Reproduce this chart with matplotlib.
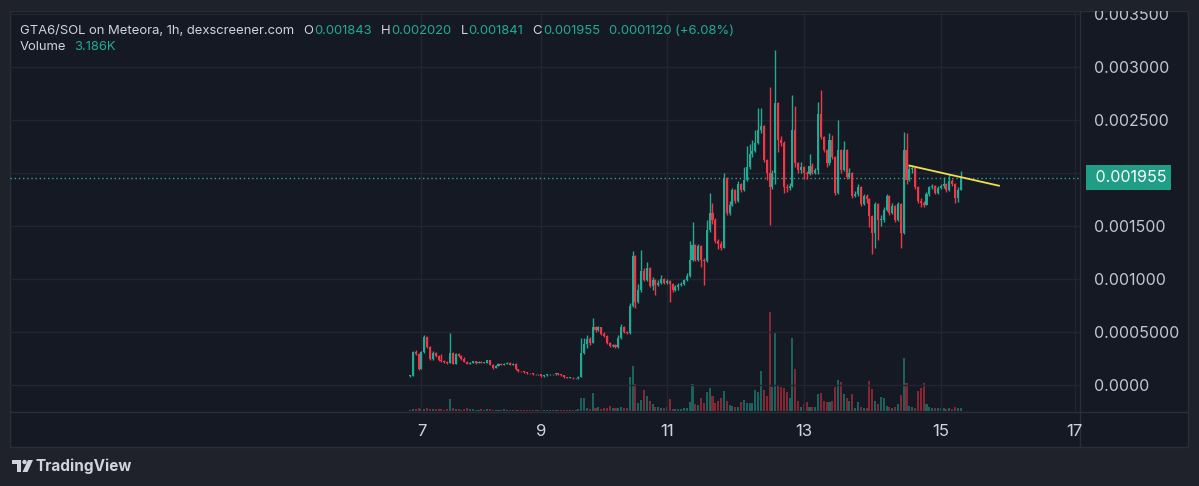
import numpy as np
import matplotlib.pyplot as plt
from matplotlib.patches import Rectangle, Polygon, Circle
from matplotlib.transforms import IdentityTransform

plt.rcParams['font.family'] = ['Inter', 'DejaVu Sans']

# hourly candles, prices in millionths of SOL (open = previous close)
first_open = 85
close_u = [85, 314, 290, 150, 310, 455, 360, 245, 300, 270,
           240, 230, 220, 210, 300, 200, 290, 270, 250, 220,
           200, 210, 222, 210, 220, 210, 212, 235, 190, 160,
           180, 200, 190, 200, 212, 190, 200, 150, 130, 128,
           120, 112, 110, 102, 100, 100, 82, 90, 100, 102,
           100, 110, 100, 90, 72, 70, 70, 62, 62, 80,
           300, 390, 430, 400, 550, 520, 545, 480, 460, 400,
           370, 380, 355, 440, 550, 500, 490, 750, 1220, 780,
           900, 1080, 990, 1100, 930, 990, 940, 960, 1000, 960,
           980, 950, 900, 920, 940, 950, 990, 1030, 1180, 1320,
           1180, 1310, 1180, 1170, 1460, 1620, 1560, 1360, 1330, 1290,
           1950, 1620, 1700, 1840, 1740, 1900, 1840, 1930, 2060, 2180,
           2210, 2280, 2410, 2440, 2120, 2000, 1870, 2000, 2660, 2310,
           2280, 1870, 1860, 1880, 2410, 2090, 2030, 2060, 2000, 1990,
           2070, 2000, 2030, 2560, 2340, 2220, 2090, 2310, 2150, 1810,
           2220, 2030, 2220, 1960, 2000, 1780, 1800, 1870, 1710, 1780,
           1750, 1590, 1430, 1710, 1560, 1560, 1650, 1780, 1620, 1690,
           1560, 1710, 1430, 2220, 1930, 2040, 2050, 1870, 1740, 1720,
           1700, 1800, 1870, 1880, 1810, 1860, 1880, 1900, 1840, 1920,
           1900, 1760, 1843, 1955]
high_u = [90, 320, 330, 300, 320, 470, 460, 370, 320, 310,
          280, 290, 240, 230, 495, 310, 300, 300, 280, 260,
          230, 220, 230, 225, 228, 225, 220, 240, 240, 195,
          190, 205, 205, 210, 218, 215, 205, 205, 155, 135,
          130, 122, 115, 112, 105, 104, 102, 95, 104, 106,
          106, 115, 112, 102, 92, 75, 74, 72, 66, 85,
          440, 440, 470, 450, 630, 560, 560, 550, 500, 470,
          410, 390, 385, 470, 580, 560, 510, 770, 1260, 1230,
          950, 1270, 1100, 1160, 1110, 1020, 1000, 990, 1040, 1010,
          1000, 990, 960, 940, 960, 970, 1000, 1060, 1360, 1540,
          1330, 1330, 1320, 1200, 1560, 1810, 1720, 1580, 1380, 1360,
          2000, 1960, 1740, 1860, 1850, 1920, 1910, 2060, 2250, 2270,
          2310, 2410, 2610, 2610, 2450, 2130, 2810, 2030, 3160, 2670,
          2350, 2300, 1900, 1910, 2740, 2630, 2100, 2100, 2070, 2020,
          2180, 2090, 2050, 2670, 2780, 2350, 2230, 2380, 2360, 2160,
          2500, 2230, 2300, 2230, 2050, 2010, 1830, 1900, 1880, 1800,
          1800, 1760, 1600, 1730, 1720, 1600, 1680, 1800, 1790, 1720,
          1700, 1730, 1720, 2390, 2380, 2070, 2080, 2060, 1880, 1760,
          1740, 1820, 1880, 1900, 1890, 1880, 1900, 1960, 1910, 1990,
          1940, 1910, 1870, 2020]
low_u = [80, 85, 280, 140, 150, 300, 350, 240, 240, 260,
         230, 220, 210, 200, 205, 195, 200, 260, 240, 215,
         195, 195, 205, 200, 205, 205, 205, 210, 185, 155,
         158, 178, 185, 185, 195, 185, 185, 145, 125, 120,
         115, 108, 105, 98, 96, 95, 78, 80, 88, 98,
         96, 98, 96, 86, 68, 66, 66, 60, 58, 60,
         78, 290, 350, 380, 400, 500, 510, 470, 450, 390,
         360, 355, 345, 350, 430, 490, 480, 480, 740, 730,
         770, 880, 980, 980, 920, 900, 850, 930, 950, 950,
         950, 780, 880, 890, 900, 930, 940, 980, 1020, 1170,
         1170, 1170, 1110, 940, 1160, 1440, 1520, 1340, 1280, 1270,
         1290, 1600, 1600, 1690, 1720, 1730, 1820, 1830, 1920, 2040,
         2150, 2200, 2270, 2380, 2100, 1930, 1510, 1850, 1900, 2200,
         2250, 1810, 1820, 1840, 1870, 2060, 2000, 2000, 1940, 1940,
         1980, 1990, 1990, 1990, 2320, 2200, 2060, 2080, 2130, 1790,
         1800, 2000, 2020, 1940, 1950, 1760, 1770, 1780, 1690, 1700,
         1720, 1490, 1240, 1290, 1370, 1500, 1540, 1640, 1600, 1610,
         1540, 1550, 1290, 1420, 1900, 1920, 2000, 1850, 1720, 1680,
         1680, 1700, 1780, 1850, 1800, 1800, 1850, 1860, 1820, 1830,
         1880, 1720, 1730, 1841]
# volume in thousands
volume_k = [1, 2, 2, 3, 2, 2, 3, 2, 2, 2,
            2, 2, 1, 2, 12, 3, 2, 2, 1, 2,
            3, 2, 2, 1, 1, 2, 1, 2, 2, 1,
            1, 1, 1, 2, 1, 1, 1, 1, 1, 1,
            1, 1, 1, 1, 1, 1, 1, 1, 1, 1,
            1, 1, 1, 1, 1, 1, 1, 1, 1, 2,
            13, 13, 3, 2, 18, 3, 4, 2, 3, 3,
            5, 3, 3, 3, 4, 3, 3, 34, 45, 27,
            8, 11, 21, 15, 10, 7, 4, 4, 3, 3,
            4, 12, 2, 2, 2, 2, 3, 3, 9, 27,
            7, 6, 13, 8, 19, 23, 15, 8, 10, 13,
            20, 10, 6, 5, 4, 4, 9, 11, 8, 8,
            8, 21, 19, 40, 21, 15, 99, 24, 78, 26,
            24, 23, 19, 13, 73, 42, 10, 4, 7, 9,
            4, 4, 4, 17, 18, 10, 9, 9, 10, 24,
            31, 29, 17, 13, 10, 17, 3, 9, 4, 3,
            3, 30, 22, 10, 7, 14, 13, 5, 4, 3,
            4, 7, 16, 53, 28, 5, 4, 3, 20, 23,
            28, 7, 4, 3, 3, 3, 3, 3, 2, 3,
            2, 4, 3, 3.186]

day_bars = [4, 46, 90, 138, 186, 233]
day_labels = ['7', '9', '11', '13', '15', '17']
price_ticks = [0, 0.0005, 0.001, 0.0015, 0.002, 0.0025, 0.003, 0.0035]
price_labels = ['0.0000', '0.0005000', '0.001000', '0.001500', '0.002000',
                '0.002500', '0.003000', '0.003500']
trend_bars = [175, 206.4]
trend_price = [0.00207, 0.00188]

W, H = 1199, 486
outer_bg = '#1f222b'
chart_bg = '#151924'
grid_c = '#232632'
txt_c = '#d1d4dc'
up_c = '#22ab94'
dn_c = '#f23645'

c = np.array(close_u) * 1e-6
o = np.r_[first_open, close_u[:-1]] * 1e-6
h = np.maximum(np.array(high_u) * 1e-6, np.maximum(o, c))
l = np.minimum(np.array(low_u) * 1e-6, np.minimum(o, c))
x = np.arange(len(c))
up = c >= o
cols = np.where(up, up_c, dn_c)

fig = plt.figure(figsize=(W / 100, H / 100), dpi=100, facecolor=outer_bg)

def fx(px):
    return px / W

def fy(py):
    return 1 - py / H

# chart frame
fig.add_artist(Rectangle((fx(10), fy(447)), fx(1188) - fx(10), fy(11) - fy(447),
                         transform=fig.transFigure, fc=chart_bg, ec='#2a2e39', lw=1, zorder=-1))

ax = fig.add_axes([fx(10), fy(411), fx(1080) - fx(10), fy(11) - fy(411)])
vax = ax.twinx()
ax.set_zorder(2)
vax.set_zorder(1)
ax.patch.set_visible(False)
vax.patch.set_visible(False)

# volume
vax.bar(x, volume_k, width=0.72, color=cols, alpha=0.5, lw=0)
vax.set_ylim(0, 400)
vax.axis('off')

# candles
ax.vlines(x, l, h, colors=cols, lw=1, zorder=3)
minh = 0.5e-5
ax.bar(x, np.maximum(np.abs(c - o), minh), bottom=np.minimum(o, c), width=0.72,
       color=cols, lw=0, zorder=4)

ax.plot(trend_bars, trend_price, color='#f0e04a', lw=1.3, zorder=5)
ax.axhline(c[-1], color=up_c, lw=1, ls=(0, (1, 2)), zorder=2)

ax.set_xlim(-140.2, 234.8)
ax.set_ylim(-0.000245, 0.003528)
for s in ax.spines.values():
    s.set_visible(False)
ax.set_xticks(day_bars)
ax.set_xticklabels(day_labels)
ax.yaxis.tick_right()
ax.set_yticks(price_ticks)
ax.set_yticklabels(price_labels)
ax.tick_params(axis='x', length=0, pad=9, labelsize=12, labelcolor=txt_c)
ax.tick_params(axis='y', length=0, pad=10, labelsize=11.5, labelcolor='#c3c6ce')
ax.grid(True, color=grid_c, lw=1)
ax.set_axisbelow(True)

# the last-price badge sits over the label nearest to it
for tick, lab in zip(price_ticks, ax.get_yticklabels()):
    if abs(tick - c[-1]) < 0.0001:
        lab.set_visible(False)

ax.annotate(' %.6f' % c[-1], xy=(1, c[-1]), xycoords=('axes fraction', 'data'),
            xytext=(8, 0), textcoords='offset points', va='center', ha='left',
            color='white', fontsize=11.5, annotation_clip=False, zorder=10,
            bbox=dict(boxstyle='square,pad=0.3', fc='#1f9e85', ec='none'))

# separators and clipping of axis area (drawn above the axes)
fig.add_artist(Rectangle((fx(1082), fy(446)), fx(1187) - fx(1082), fy(412) - fy(446),
                         transform=fig.transFigure, fc=chart_bg, ec='none', zorder=3))
fig.add_artist(Rectangle((0, fy(11)), 1, 1 - fy(11), transform=fig.transFigure,
                         fc=outer_bg, ec='none', zorder=3))
fig.add_artist(plt.Line2D([fx(10), fx(1188)], [fy(411.5)] * 2, transform=fig.transFigure,
                          color='#2a2e39', lw=1, zorder=3))
fig.add_artist(plt.Line2D([fx(1080)] * 2, [fy(11), fy(447)], transform=fig.transFigure,
                          color='#2a2e39', lw=1, zorder=1))


def pix_text(px, py, s, **kw):
    return fig.text(px, H - py, s, transform=IdentityTransform(), **kw)


def chain(px, py, parts, size):
    r = fig.canvas.get_renderer()
    for s, col, gap in parts:
        t = pix_text(px, py, s, color=col, fontsize=size, va='center', ha='left', zorder=5)
        px += t.get_window_extent(r).width + gap


chg = c[-1] - o[-1]
header = [('GTA6/SOL on Meteora, 1h, dexscreener.com', txt_c, 9),
          ('O', txt_c, 1), ('%.6f' % o[-1], up_c, 9),
          ('H', txt_c, 1), ('%.6f' % h[-1], up_c, 9),
          ('L', txt_c, 1), ('%.6f' % l[-1], up_c, 9),
          ('C', txt_c, 1), ('%.6f' % c[-1], up_c, 9),
          ('%.7f (+%.2f%%)' % (chg, chg / o[-1] * 100), up_c, 0)]
chain(20, 31, header, 9.4)
chain(20, 47, [('Volume', txt_c, 8), ('%.3fK' % volume_k[-1], up_c, 0)], 9.4)

# TradingView logo
to_px = IdentityTransform()
fig.add_artist(Polygon([[12, H - 460], [21, H - 460], [21, H - 472], [17, H - 472],
                        [17, H - 464], [12, H - 464]], closed=True, transform=to_px,
                       fc=txt_c, ec='none'))
fig.add_artist(Circle((24.5, H - 462), 2.2, transform=to_px, fc=txt_c, ec='none'))
fig.add_artist(Polygon([[28, H - 460], [33, H - 460], [27.5, H - 472], [22.5, H - 472]],
                       closed=True, transform=to_px, fc=txt_c, ec='none'))
pix_text(36, 466, 'TradingView', color=txt_c, fontsize=11, fontweight='bold', va='center')

fig.savefig('out.png', dpi=100, facecolor=fig.get_facecolor())
